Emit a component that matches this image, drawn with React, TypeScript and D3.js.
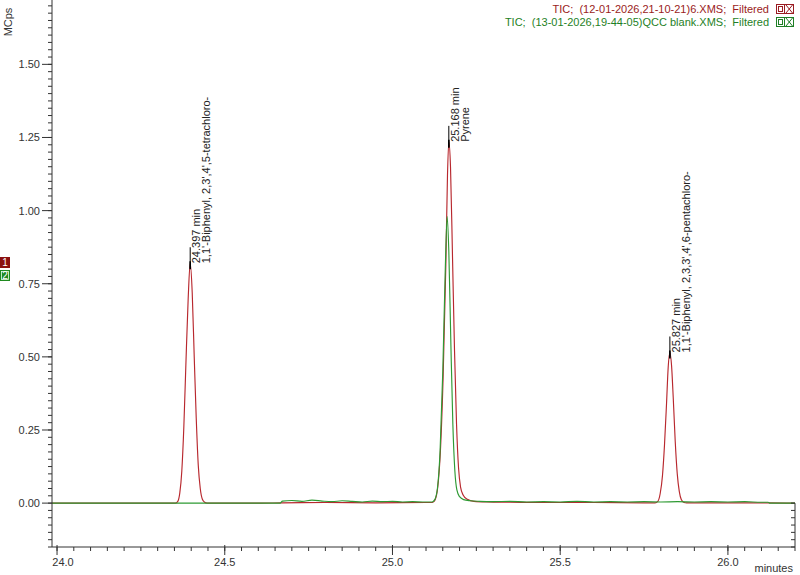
import React from "react";
import * as d3 from "d3";

// ---- data ----
const trace1: [number, number][] = [
  [23.985, 0], [24.2, 0], [24.353, 0],
  [24.36, 0.006], [24.366, 0.035], [24.372, 0.11], [24.378, 0.26], [24.384, 0.47], [24.391, 0.70],
  [24.397, 0.82], [24.403, 0.72], [24.409, 0.50], [24.415, 0.29], [24.421, 0.13], [24.427, 0.05],
  [24.433, 0.014], [24.439, 0.004], [24.448, 0],
  [24.6, 0], [24.67, 0.001], [24.8, 0.002], [24.95, 0.001], [25.1, 0.002],
  [25.119, 0.002], [25.127, 0.011], [25.135, 0.055], [25.143, 0.18], [25.151, 0.43], [25.159, 0.81],
  [25.164, 1.12], [25.168, 1.235], [25.173, 1.15], [25.179, 0.84], [25.185, 0.52], [25.191, 0.27],
  [25.197, 0.12], [25.203, 0.055], [25.211, 0.027], [25.223, 0.013], [25.243, 0.006], [25.28, 0.004],
  [25.35, 0.003], [25.45, 0.002], [25.6, 0.002], [25.75, 0.001],
  [25.783, 0.001], [25.791, 0.006], [25.798, 0.032], [25.805, 0.095], [25.811, 0.2], [25.817, 0.34],
  [25.822, 0.465], [25.827, 0.515], [25.832, 0.47], [25.837, 0.36], [25.843, 0.21], [25.849, 0.10],
  [25.855, 0.04], [25.861, 0.012], [25.869, 0.002], [25.877, 0.001],
  [26.0, 0.001], [26.12, 0.001], [26.2, 0],
];

const trace2: [number, number][] = [
  [23.985, 0], [24.3, 0], [24.665, 0],
  [24.672, 0.007], [24.7, 0.009], [24.73, 0.006], [24.76, 0.010], [24.79, 0.007], [24.82, 0.005],
  [24.85, 0.008], [24.88, 0.006], [24.91, 0.004], [24.94, 0.007], [24.97, 0.005], [25.0, 0.006],
  [25.03, 0.004], [25.06, 0.005], [25.09, 0.004], [25.112, 0.004],
  [25.118, 0.004], [25.126, 0.012], [25.134, 0.05], [25.142, 0.18], [25.15, 0.45], [25.157, 0.78],
  [25.163, 0.98], [25.168, 0.86], [25.174, 0.55], [25.18, 0.27], [25.186, 0.11], [25.192, 0.045],
  [25.2, 0.022], [25.212, 0.012], [25.232, 0.008],
  [25.26, 0.006], [25.3, 0.005], [25.35, 0.006], [25.4, 0.004], [25.45, 0.005], [25.5, 0.004],
  [25.55, 0.006], [25.6, 0.004], [25.65, 0.005], [25.7, 0.004], [25.75, 0.005], [25.8, 0.004],
  [25.85, 0.005], [25.9, 0.004], [25.95, 0.005], [26.0, 0.004], [26.05, 0.005], [26.1, 0.003],
  [26.12, 0.003], [26.125, 0], [26.2, 0],
];

const peakTimes = [24.397, 25.168, 25.827];
const peakHeights = [0.82, 1.235, 0.515];
const peakLine1 = ["24.397 min", "25.168 min", "25.827 min"];
const peakLine2 = [
  "1,1'-Biphenyl, 2,3',4',5-tetrachloro-",
  "Pyrene",
  "1,1'-Biphenyl, 2,3,3',4',6-pentachloro-",
];

const yMajorTicks = [0, 0.25, 0.5, 0.75, 1.0, 1.25, 1.5];
const xMajorTicks = [24.0, 24.5, 25.0, 25.5, 26.0];

const legendLabels = [
  "TIC;  (12-01-2026,21-10-21)6.XMS;  Filtered",
  "TIC;  (13-01-2026,19-44-05)QCC blank.XMS;  Filtered",
];

// ---- style ----
const W = 800;
const H = 575;
const FONT = "'Liberation Sans', Arial, sans-serif";
const RED = "#b8282e";
const GREEN = "#2e9a33";
const LEG_RED = "#9a1c22";
const LEG_GREEN = "#1f7f26";
const AXIS = "#333333";

export default function App() {
  const x = d3.scaleLinear().domain([23.985, 26.2]).range([52, 795]);
  const y = d3.scaleLinear().domain([-0.15, 1.72]).range([547, 0]);

  const line = d3
    .line<[number, number]>()
    .x((d) => x(d[0]))
    .y((d) => y(d[1]))
    .curve(d3.curveMonotoneX);

  const yMinor = d3.range(-0.15, 1.7001, 0.025).map((v) => Math.round(v * 1000) / 1000);
  const xMinor = d3.range(24.0, 26.2001, 0.05).map((v) => Math.round(v * 1000) / 1000);
  const rightMinor = d3.range(-0.15, 0.0001, 0.025).map((v) => Math.round(v * 1000) / 1000);

  const x0 = x.range()[0];
  const yBottom = y.range()[0];

  return (
    <svg
      width={W}
      height={H}
      style={{ position: "absolute", left: 0, top: 0, background: "#fff" }}
      fontFamily={FONT}
    >
      <rect x={0} y={0} width={W} height={H} fill="#fff" />

      {/* traces */}
      <path d={line(trace1) || ""} fill="none" stroke={RED} strokeWidth={1.15} />
      <path d={line(trace2) || ""} fill="none" stroke={GREEN} strokeWidth={1.15} />

      {/* peak apex markers and labels */}
      {peakTimes.map((t, i) => {
        const px = x(t);
        const py = y(peakHeights[i]);
        return (
          <g key={i}>
            <line x1={px} x2={px} y1={py - 16} y2={py + 5} stroke="#000" strokeWidth={1} />
            <line x1={px} x2={px} y1={py - 2} y2={py + 6} stroke="#000" strokeWidth={1.6} />
            <text
              transform={`translate(${px + 10},${py}) rotate(-90)`}
              fontSize={11}
              fill="#222"
            >
              {peakLine1[i]}
            </text>
            <text
              transform={`translate(${px + 20},${py}) rotate(-90)`}
              fontSize={11}
              fill="#222"
            >
              {peakLine2[i]}
            </text>
          </g>
        );
      })}

      {/* y axis */}
      <line x1={x0} x2={x0} y1={0} y2={yBottom} stroke={AXIS} strokeWidth={1} />
      {yMinor.map((v) => (
        <line key={"ym" + v} x1={x0 - 4} x2={x0} y1={y(v)} y2={y(v)} stroke={AXIS} strokeWidth={1} />
      ))}
      {yMajorTicks.map((v) => (
        <g key={"yM" + v}>
          <line x1={x0 - 10} x2={x0} y1={y(v)} y2={y(v)} stroke={AXIS} strokeWidth={1} />
          <text x={x0 - 12} y={y(v) + 4} textAnchor="end" fontSize={11} fill={AXIS}>
            {v.toFixed(2)}
          </text>
        </g>
      ))}
      <text transform={`translate(12,22) rotate(-90)`} textAnchor="middle" fontSize={11} fill={AXIS}>
        MCps
      </text>

      {/* right short axis below zero */}
      <line x1={795} x2={795} y1={y(0)} y2={yBottom} stroke={AXIS} strokeWidth={1} />
      {rightMinor.map((v) => (
        <line key={"rm" + v} x1={791} x2={795} y1={y(v)} y2={y(v)} stroke={AXIS} strokeWidth={1} />
      ))}

      {/* x axis */}
      <line x1={x0} x2={x.range()[1]} y1={yBottom} y2={yBottom} stroke={AXIS} strokeWidth={1} />
      {xMinor.map((v) => (
        <line key={"xm" + v} x1={x(v)} x2={x(v)} y1={yBottom} y2={yBottom + 4} stroke={AXIS} strokeWidth={1} />
      ))}
      {xMajorTicks.map((v) => (
        <g key={"xM" + v}>
          <line x1={x(v)} x2={x(v)} y1={yBottom - 2} y2={yBottom + 8} stroke={AXIS} strokeWidth={1} />
          <text
            x={Math.max(x(v), x0 + 11)}
            y={yBottom + 19}
            textAnchor="middle"
            fontSize={11}
            fill={AXIS}
          >
            {v.toFixed(1)}
          </text>
        </g>
      ))}
      <text x={793} y={572} textAnchor="end" fontSize={11} fill={AXIS}>
        minutes
      </text>

      {/* legend */}
      {legendLabels.map((s, i) => {
        const col = i === 0 ? LEG_RED : LEG_GREEN;
        const ty = 13 + i * 13;
        const by = 4 + i * 13;
        return (
          <g key={"lg" + i}>
            <text x={769} y={ty} textAnchor="end" fontSize={11} fill={col} style={{ whiteSpace: "pre" }}>
              {s}
            </text>
            <rect x={776.5} y={by + 0.5} width={17} height={9} fill="none" stroke={col} strokeWidth={1} />
            <line x1={784.5} x2={784.5} y1={by + 0.5} y2={by + 9.5} stroke={col} strokeWidth={1} />
            <rect x={778.5} y={by + 2.5} width={4} height={5} fill="none" stroke={col} strokeWidth={1} />
            <line x1={786} x2={792.5} y1={by + 1} y2={by + 9} stroke={col} strokeWidth={1} />
            <line x1={792.5} x2={786} y1={by + 1} y2={by + 9} stroke={col} strokeWidth={1} />
          </g>
        );
      })}

      {/* series markers on the left */}
      <rect x={0} y={257} width={10} height={11} fill="#8b1010" />
      <text x={5} y={266} textAnchor="middle" fontSize={10} fill="#fff">
        1
      </text>
      <rect x={0} y={270} width={10} height={11} fill="#1f8a1f" />
      <rect x={1.5} y={271.5} width={7} height={8} fill="none" stroke="#e8ffe8" strokeWidth={0.8} />
      <text x={5} y={279} textAnchor="middle" fontSize={10} fill="#fff">
        2
      </text>
    </svg>
  );
}
